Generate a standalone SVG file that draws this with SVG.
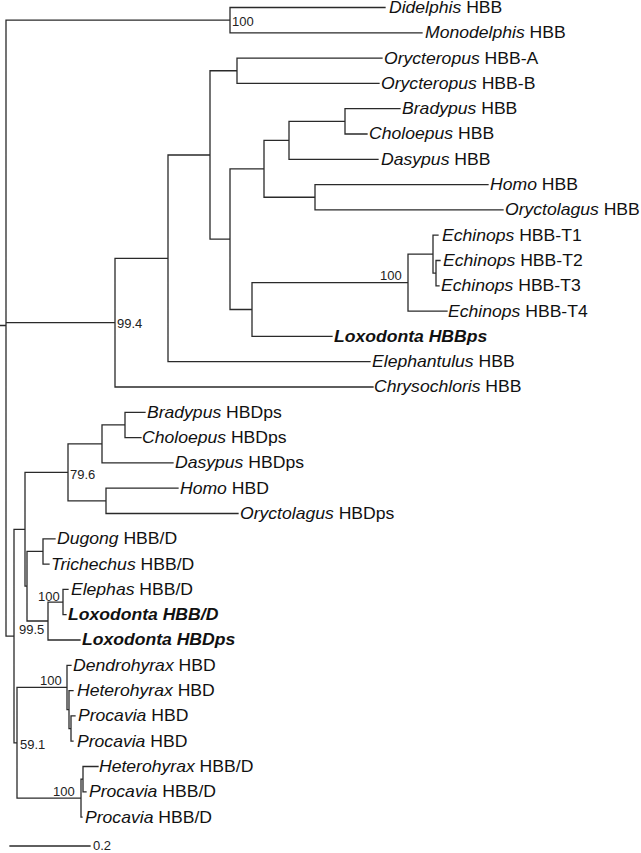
<svg xmlns="http://www.w3.org/2000/svg" width="641" height="853" viewBox="0 0 641 853">
<style>
.br{fill:none;stroke:#2a2a2a;stroke-width:1.3;stroke-linecap:square}
.lb{font-family:"Liberation Sans",Arial,sans-serif;font-size:16px;fill:#111}
.g{font-style:italic}
.bd{font-weight:bold;font-style:italic}
.bs{font-family:"Liberation Sans",Arial,sans-serif;font-size:13px;fill:#222}
</style>
<rect width="641" height="853" fill="#fff"/>
<g id="connectors" class="br">
<path d="M0,325.5H6 M6,20.15V636.05 M6,20.15H230 M6,322.7H115 M6,636.05H14
M230,7.5V32.8 M230,7.5H385 M230,32.8H422
M115,258.3V387 M115,258.3H168 M115,387H373
M168,155V361.7 M168,155H210 M168,361.7H370
M210,70.75V239.2 M210,70.75H237 M210,239.2H230
M237,58.1V83.4 M237,58.1H382 M237,83.4H379
M230,168.8V309.5 M230,168.8H264 M230,309.5H252
M264,140.3V197.25 M264,140.3H289 M264,197.25H315
M289,121.35V159.3 M289,121.35H345 M289,159.3H378
M345,108.7V134 M345,108.7H400 M345,134H367
M315,184.6V209.9 M315,184.6H488 M315,209.9H503
M252,282.65V336.4 M252,282.65H408 M252,336.4H332
M408,254.2V311.1 M408,254.2H433 M408,311.1H447
M433,235.2V273.15 M433,235.2H438 M433,273.15H436
M436,260.5V285.8 M436,260.5H440 M436,285.8H439
M14,529.3V742.8 M14,529.3H25 M14,742.8H17
M25,472.4V586.2 M25,472.4H68 M25,586.2H27
M68,443.9V500.85 M68,443.9H102 M68,500.85H106
M102,424.95V462.9 M102,424.95H125 M102,462.9H173
M125,412.3V437.6 M125,412.3H145 M125,437.6H141
M106,488.2V513.5 M106,488.2H178 M106,513.5H238
M27,551.45V621 M27,551.45H43 M27,621H48
M43,538.8V564.1 M43,538.8H55 M43,564.1H49
M48,602.05V640 M48,602.05H63 M48,640H80
M63,589.4V614.7 M63,589.4H68 M63,614.7H66
M17,687.45V798.1 M17,687.45H67 M17,798.1H81
M67,665.3V709.6 M67,665.3H71 M67,709.6H69
M69,690.6V728.55 M69,690.6H73 M69,728.55H71
M71,715.9V741.2 M71,715.9H75 M71,741.2H73
M81,779.15V817.1 M81,779.15H83 M81,817.1H82
M83,766.5V791.8 M83,766.5H98 M83,791.8H86"/>
<path id="scale-bar" d="M10,846H90"/>
</g>
<g id="support" class="bs">
<text x="232" y="26">100</text>
<text x="117" y="328">99.4</text>
<text x="380" y="280">100</text>
<text x="70" y="479">79.6</text>
<text x="38" y="601">100</text>
<text x="19" y="634">99.5</text>
<text x="40" y="685">100</text>
<text x="20" y="749">59.1</text>
<text x="53" y="796">100</text>
<text x="93" y="850">0.2</text>
</g>
<g class="lb" transform="scale(1.1,1)">
<g id="didelphis-hbb"><text x="353.6" y="13"><tspan class="g">Didelphis</tspan> HBB</text></g>
<g id="monodelphis-hbb"><text x="386.4" y="38.3"><tspan class="g">Monodelphis</tspan> HBB</text></g>
<g id="orycteropus-hbb-a"><text x="349.1" y="63.6"><tspan class="g">Orycteropus</tspan> HBB-A</text></g>
<g id="orycteropus-hbb-b"><text x="346.4" y="88.9"><tspan class="g">Orycteropus</tspan> HBB-B</text></g>
<g id="bradypus-hbb"><text x="365.5" y="114.2"><tspan class="g">Bradypus</tspan> HBB</text></g>
<g id="choloepus-hbb"><text x="335.5" y="139.5"><tspan class="g">Choloepus</tspan> HBB</text></g>
<g id="dasypus-hbb"><text x="346.4" y="164.8"><tspan class="g">Dasypus</tspan> HBB</text></g>
<g id="homo-hbb"><text x="445.5" y="190.1"><tspan class="g">Homo</tspan> HBB</text></g>
<g id="oryctolagus-hbb"><text x="459.1" y="215.4"><tspan class="g">Oryctolagus</tspan> HBB</text></g>
<g id="echinops-hbb-t1"><text x="401.8" y="240.7"><tspan class="g">Echinops</tspan> HBB-T1</text></g>
<g id="echinops-hbb-t2"><text x="402.7" y="266"><tspan class="g">Echinops</tspan> HBB-T2</text></g>
<g id="echinops-hbb-t3"><text x="400.9" y="291.3"><tspan class="g">Echinops</tspan> HBB-T3</text></g>
<g id="echinops-hbb-t4"><text x="407.3" y="316.6"><tspan class="g">Echinops</tspan> HBB-T4</text></g>
<g id="loxodonta-hbbps"><text x="303.6" y="341.9" class="bd">Loxodonta HBBps</text></g>
<g id="elephantulus-hbb"><text x="338.2" y="367.2"><tspan class="g">Elephantulus</tspan> HBB</text></g>
<g id="chrysochloris-hbb"><text x="340" y="392.5"><tspan class="g">Chrysochloris</tspan> HBB</text></g>
<g id="bradypus-hbdps"><text x="133.6" y="417.8"><tspan class="g">Bradypus</tspan> HBDps</text></g>
<g id="choloepus-hbdps"><text x="129.1" y="443.1"><tspan class="g">Choloepus</tspan> HBDps</text></g>
<g id="dasypus-hbdps"><text x="159.1" y="468.4"><tspan class="g">Dasypus</tspan> HBDps</text></g>
<g id="homo-hbd"><text x="163.6" y="493.7"><tspan class="g">Homo</tspan> HBD</text></g>
<g id="oryctolagus-hbdps"><text x="218.2" y="519"><tspan class="g">Oryctolagus</tspan> HBDps</text></g>
<g id="dugong-hbbd"><text x="51.8" y="544.3"><tspan class="g">Dugong</tspan> HBB/D</text></g>
<g id="trichechus-hbbd"><text x="46.4" y="569.6"><tspan class="g">Trichechus</tspan> HBB/D</text></g>
<g id="elephas-hbbd"><text x="64.5" y="594.9"><tspan class="g">Elephas</tspan> HBB/D</text></g>
<g id="loxodonta-hbbd"><text x="61.8" y="620.2" class="bd">Loxodonta HBB/D</text></g>
<g id="loxodonta-hbdps"><text x="74.5" y="645.5" class="bd">Loxodonta HBDps</text></g>
<g id="dendrohyrax-hbd"><text x="66.4" y="670.8"><tspan class="g">Dendrohyrax</tspan> HBD</text></g>
<g id="heterohyrax-hbd"><text x="70" y="696.1"><tspan class="g">Heterohyrax</tspan> HBD</text></g>
<g id="procavia-hbd-1"><text x="70.9" y="721.4"><tspan class="g">Procavia</tspan> HBD</text></g>
<g id="procavia-hbd-2"><text x="70" y="746.7"><tspan class="g">Procavia</tspan> HBD</text></g>
<g id="heterohyrax-hbbd"><text x="90" y="772"><tspan class="g">Heterohyrax</tspan> HBB/D</text></g>
<g id="procavia-hbbd-1"><text x="80.9" y="797.3"><tspan class="g">Procavia</tspan> HBB/D</text></g>
<g id="procavia-hbbd-2"><text x="77.3" y="822.6"><tspan class="g">Procavia</tspan> HBB/D</text></g>
</g>
</svg>
